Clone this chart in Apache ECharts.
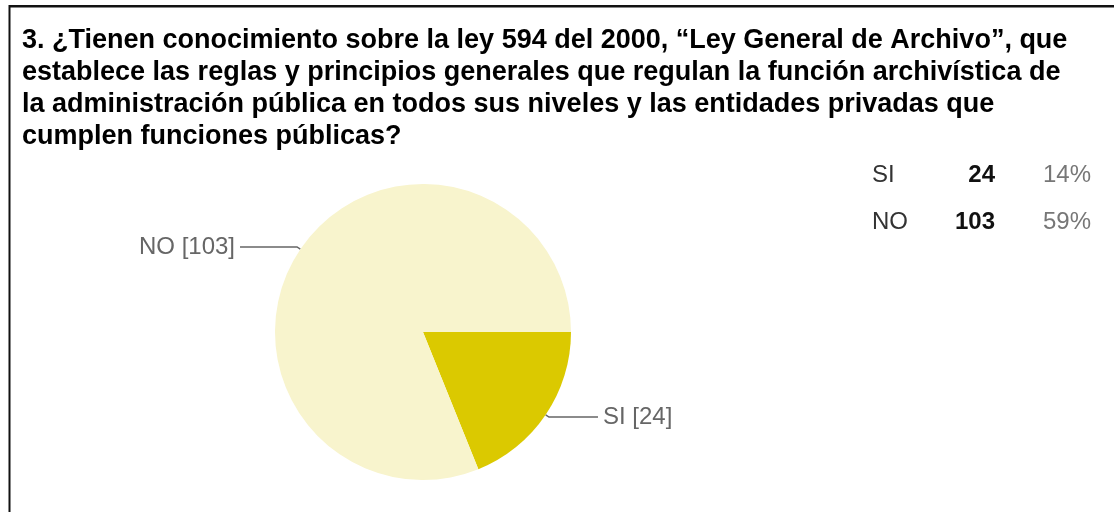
<!DOCTYPE html>
<html>
<head>
<meta charset="utf-8">
<script src="https://cdn.jsdelivr.net/npm/echarts@6/dist/echarts.min.js"></script>
<style>
  html, body { margin: 0; padding: 0; background: #fff; }
  #chart { width: 1114px; height: 512px; }
</style>
</head>
<body>
<div id="chart"></div>
<script>
// Survey question 3: answers and their counts
const categories = ['SI', 'NO'];
const counts = [24, 103];
const percents = ['14%', '59%'];

const questionText = '3. ¿Tienen conocimiento sobre la ley 594 del 2000, “Ley General de Archivo”, que\n' +
  'establece las reglas y principios generales que regulan la función archivística de\n' +
  'la administración pública en todos sus niveles y las entidades privadas que\n' +
  'cumplen funciones públicas?';

const sliceColors = ['#dbc900', '#f8f4cd'];
const lineTail = [49, 57];

const FONT = '"Liberation Sans", Arial, sans-serif';

const chart = echarts.init(document.getElementById('chart'), null, { renderer: 'canvas' });

// Summary table at the right: answer, count, share of respondents
const tableItems = [];
categories.forEach((c, i) => {
  const y = 177 + i * 47;
  tableItems.push({
    type: 'text', left: 872, top: y - 14,
    style: { text: c, font: '24px ' + FONT, fill: '#333' }
  });
  tableItems.push({
    type: 'text', right: 1114 - 995, top: y - 14,
    style: { text: String(counts[i]), font: 'bold 24px ' + FONT, fill: '#111', textAlign: 'right' }
  });
  tableItems.push({
    type: 'text', right: 1114 - 1091, top: y - 14,
    style: { text: percents[i], font: '24px ' + FONT, fill: '#777', textAlign: 'right' }
  });
});

const option = {
  animation: false,
  backgroundColor: '#fff',
  title: {
    text: questionText,
    left: 22,
    top: 25,
    padding: 0,
    textStyle: {
      fontFamily: FONT,
      fontSize: 27,
      fontWeight: 'bold',
      color: '#000',
      lineHeight: 32
    }
  },
  graphic: [
    // frame: top and left rules
    { type: 'rect', shape: { x: 9, y: 5, width: 1105, height: 2.5 }, style: { fill: '#111' } },
    { type: 'rect', shape: { x: 8.5, y: 5, width: 2, height: 507 }, style: { fill: '#111' } }
  ].concat(tableItems),
  series: [{
    type: 'pie',
    center: [423, 332],
    radius: 148,
    startAngle: 0,
    clockwise: true,
    avoidLabelOverlap: false,
    emphasis: { disabled: true },
    itemStyle: { borderWidth: 0 },
    label: {
      show: true,
      position: 'outside',
      formatter: '{b} [{c}]',
      fontFamily: FONT,
      fontSize: 24,
      color: '#666',
      distanceToLabelLine: 5
    },
    labelLine: {
      show: true,
      length: 4,
      smooth: false,
      lineStyle: { color: '#666', width: 1.5 }
    },
    data: categories.map((c, i) => ({
      name: c,
      value: counts[i],
      itemStyle: { color: sliceColors[i] },
      labelLine: { length2: lineTail[i] }
    }))
  }]
};

chart.setOption(option);
</script>
</body>
</html>
